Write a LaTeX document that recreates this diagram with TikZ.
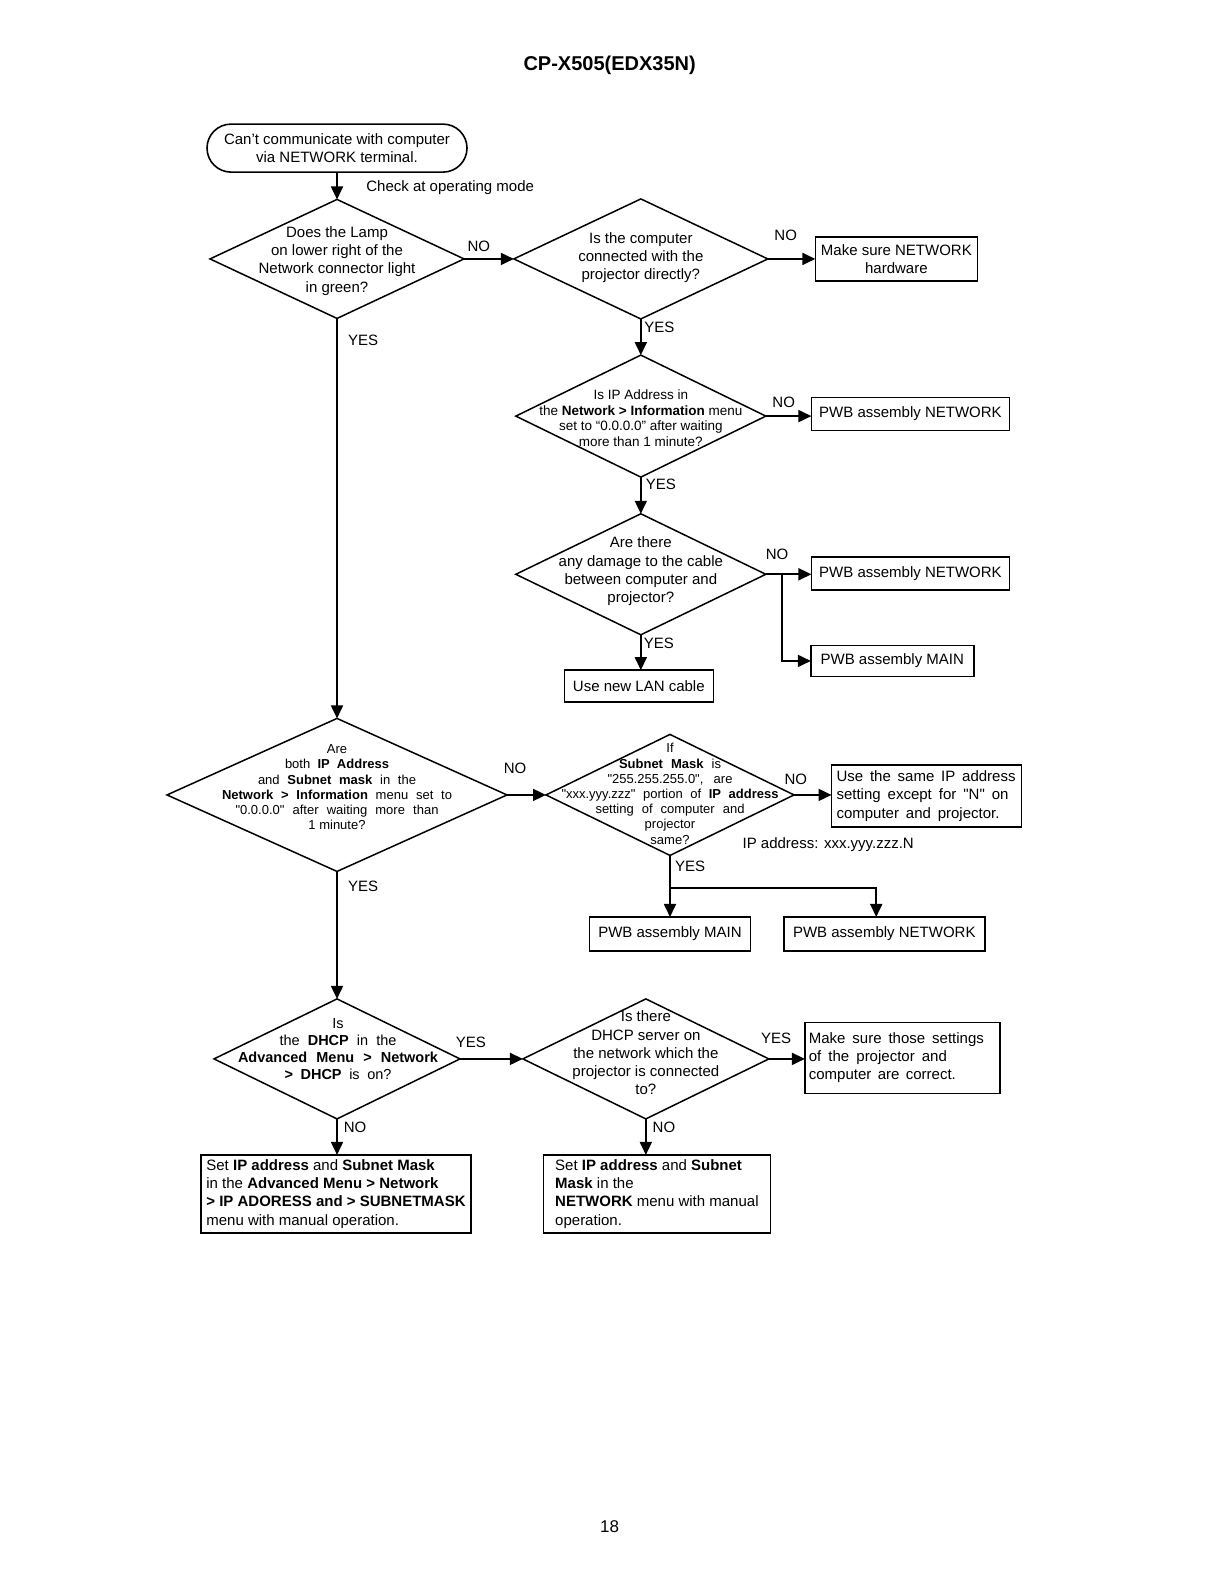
\documentclass[tikz,border=0pt]{standalone}
\usepackage{fontspec}
\setmainfont{Liberation Sans}[Ligatures=TeXOff]
\usetikzlibrary{arrows.meta,shapes.geometric}
\newcommand\fsa{\fontsize{15}{18.2}\selectfont}
\newcommand\fsb{\fontsize{13.5}{15.4}\selectfont}
\newcommand\fsc{\fontsize{13}{15.2}\selectfont}
\newcommand\fsd{\fontsize{14.5}{17}\selectfont}
\newcommand\sx[2]{\makebox[#1pt][s]{\spaceskip=0pt\xspaceskip=0pt #2}}
\tikzset{
  dia/.style={draw, shape=diamond, line width=1.5pt, inner sep=0pt, outer sep=0pt},
  dtext/.style={inner sep=0pt, align=center},
  box/.style={draw, line width=1.6pt, inner sep=0pt, outer sep=0pt, font=\fsa, align=center},
  lbox/.style={draw, line width=1.6pt, inner xsep=#1, inner ysep=0pt, outer sep=0pt, font=\fsa, align=left},
  arr/.style={line width=1.8pt, -{Triangle[length=13pt,width=12pt]}},
  ln/.style={line width=1.8pt},
  lbl/.style={font=\fsa, inner sep=0pt}
}
\begin{document}
\begin{tikzpicture}[x=1.006pt,y=-1.0075pt]
\useasboundingbox (0,0) rectangle (1211.7,1570.2);

\node[font=\bfseries\fontsize{20}{24}\selectfont] (title) at (606,65) {CP-X505(EDX35N)};
\node[font=\fontsize{17}{20}\selectfont] (page) at (606,1515) {18};

% start
\node[draw, line width=1.6pt, rounded corners=24pt, minimum width=260pt, minimum height=48pt,
      inner sep=0pt, font=\fsa, align=center] (start) at (335,147)
  {Can’t communicate with computer\\via NETWORK terminal.};
\node[lbl, anchor=west] (chk) at (364,186.5) {Check at operating mode};

% diamonds
\node[dia, minimum width=254pt, minimum height=119pt] (d1) at (335,257) {};
\node[dtext, font=\fsa] (d1t) at (335,259) {Does the Lamp\\on lower right of the\\Network connector light\\in green?};

\node[dia, minimum width=254pt, minimum height=120pt] (d2) at (637,257) {};
\node[dtext, font=\fsa] (d2t) at (637,255.5) {Is the computer\\connected with the\\projector directly?};

\node[dia, minimum width=250pt, minimum height=122pt] (d3) at (637,413) {};
\node[dtext, font=\fsb] (d3t) at (637,415) {Is IP Address in\\the \textbf{Network > Information} menu\\set to “0.0.0.0” after waiting\\more than 1 minute?};

\node[dia, minimum width=250pt, minimum height=121pt] (d4) at (637,570) {};
\node[dtext, font=\fsa] (d4t) at (637,567) {Are there\\any damage to the cable\\between computer and\\projector?};

\node[dia, minimum width=340pt, minimum height=153pt] (d5) at (335,789) {};
\node[dtext, font=\fsc] (d5t) at (335,781.5) {Are\\\sx{104}{both \textbf{IP Address}}\\\sx{158}{and \textbf{Subnet mask} in the}\\\sx{230}{\textbf{Network > Information} menu set to}\\\sx{203}{"0.0.0.0" after waiting more than}\\1 minute?};

\node[dia, minimum width=248pt, minimum height=121pt] (d6) at (666,789) {};
\node[dtext, font=\fsc] (d6t) at (666,788) {If\\\sx{102}{\textbf{Subnet Mask} is}\\\sx{125}{"255.255.255.0", are}\\\sx{217}{"xxx.yyy.zzz" portion of \textbf{IP address}}\\\sx{149}{setting of computer and}\\projector\\same?};

\node[dia, minimum width=246pt, minimum height=120pt] (d7) at (335,1051) {};
\node[dtext, font=\fsd] (d7t) at (336,1041) {Is\\\sx{117}{the \textbf{DHCP} in the}\\\sx{200}{\textbf{Advanced Menu > Network}}\\\sx{107}{\textbf{> DHCP} is on?}};

\node[dia, minimum width=246pt, minimum height=120pt] (d8) at (642,1051) {};
\node[dtext, font=\fsa] (d8t) at (642,1045) {Is there\\DHCP server on\\the network which the\\projector is connected\\to?};

% boxes
\node[box, minimum width=162pt, minimum height=44pt] (hw) at (891,257) {Make sure NETWORK\\hardware};
\node[box, minimum width=198pt, minimum height=33pt] (n1) at (905,411) {PWB assembly NETWORK};
\node[box, minimum width=198pt, minimum height=33pt] (n2) at (905,569) {PWB assembly NETWORK};
\node[box, minimum width=163pt, minimum height=31pt] (m1) at (887,656) {PWB assembly MAIN};
\node[box, minimum width=149pt, minimum height=32pt] (lan) at (635,681) {Use new LAN cable};
\node[lbox=5pt, text width=180pt, minimum height=62pt] (ip) at (921,790)
  {\sx{179}{Use the same IP address}\\\sx{172}{setting except for "N" on}\\\sx{163}{computer and projector.}};
\node[lbl, anchor=west] (ipn) at (738,838) {IP address: xxx.yyy.zzz.N};
\node[box, minimum width=161pt, minimum height=34pt] (m2) at (666,927) {PWB assembly MAIN};
\node[box, minimum width=201pt, minimum height=34pt] (n3) at (879,927) {PWB assembly NETWORK};
\node[lbox=4pt, text width=187pt, minimum height=71pt] (ms) at (897,1050)
  {\sx{175}{Make sure those settings}\\\sx{138}{of the projector and}\\\sx{147}{computer are correct.}};
\node[lbox=4pt, minimum width=270pt, minimum height=78pt] (s1) at (334,1185)
  {Set \textbf{IP address} and \textbf{Subnet Mask}\\in the \textbf{Advanced Menu > Network}\\\textbf{> IP ADORESS and > SUBNETMASK}\\menu with manual operation.};
\node[lbox=9pt, minimum width=227pt, minimum height=78pt] (s2) at (653,1185)
  {Set \textbf{IP address} and \textbf{Subnet}\\\textbf{Mask} in the\\\textbf{NETWORK} menu with manual\\operation.};

% connectors
\draw[arr] (start) -- (d1);
\draw[arr] (d1) -- (d2);
\draw[arr] (d2.east) -- (d2.east -| hw.west);
\draw[arr] (d2) -- (d3);
\draw[arr] (d3.east) -- (d3.east -| n1.west);
\draw[arr] (d3) -- (d4);
\draw[arr] (d4.east) -- (d4.east -| n2.west);
\coordinate (br) at (777,570);
\draw[arr] (br) |- (m1.west);
\draw[arr] (d4.south) -- (d4.south |- lan.north);
\draw[arr] (d1) -- (d5);
\draw[arr] (d5) -- (d6);
\draw[arr] (d6.east) -- (d6.east -| ip.west);
\coordinate (j1) at (666,881);
\coordinate (j2) at (871,881);
\draw[ln] (d6.south) -- (j1);
\draw[arr] (j1) -- (m2);
\draw[arr] (j1) -- (j2) -- (j2 |- n3.north);
\draw[arr] (d5) -- (d7);
\draw[arr] (d7) -- (d8);
\draw[arr] (d8.east) -- (d8.east -| ms.west);
\draw[arr] (d7.south) -- (d7.south |- s1.north);
\draw[arr] (d8.south) -- (d8.south |- s2.north);

% labels
\node[lbl] (no1) at (476,244) {NO};
\node[lbl] (no2) at (781,234) {NO};
\node[lbl] (yes1) at (655.5,325) {YES};
\node[lbl] (no3) at (779,399) {NO};
\node[lbl] (yes2) at (657,481) {YES};
\node[lbl] (no4) at (772.5,550) {NO};
\node[lbl] (yes3) at (655,639) {YES};
\node[lbl] (yesl1) at (361,338) {YES};
\node[lbl] (no5) at (512,763) {NO};
\node[lbl] (no6) at (791,774) {NO};
\node[lbl] (yes6) at (686,860) {YES};
\node[lbl] (yesl2) at (361,880) {YES};
\node[lbl] (yes7) at (468,1035) {YES};
\node[lbl] (yes8) at (771.5,1031) {YES};
\node[lbl] (no7) at (353,1119) {NO};
\node[lbl] (no8) at (660,1119) {NO};
\end{tikzpicture}
\end{document}
